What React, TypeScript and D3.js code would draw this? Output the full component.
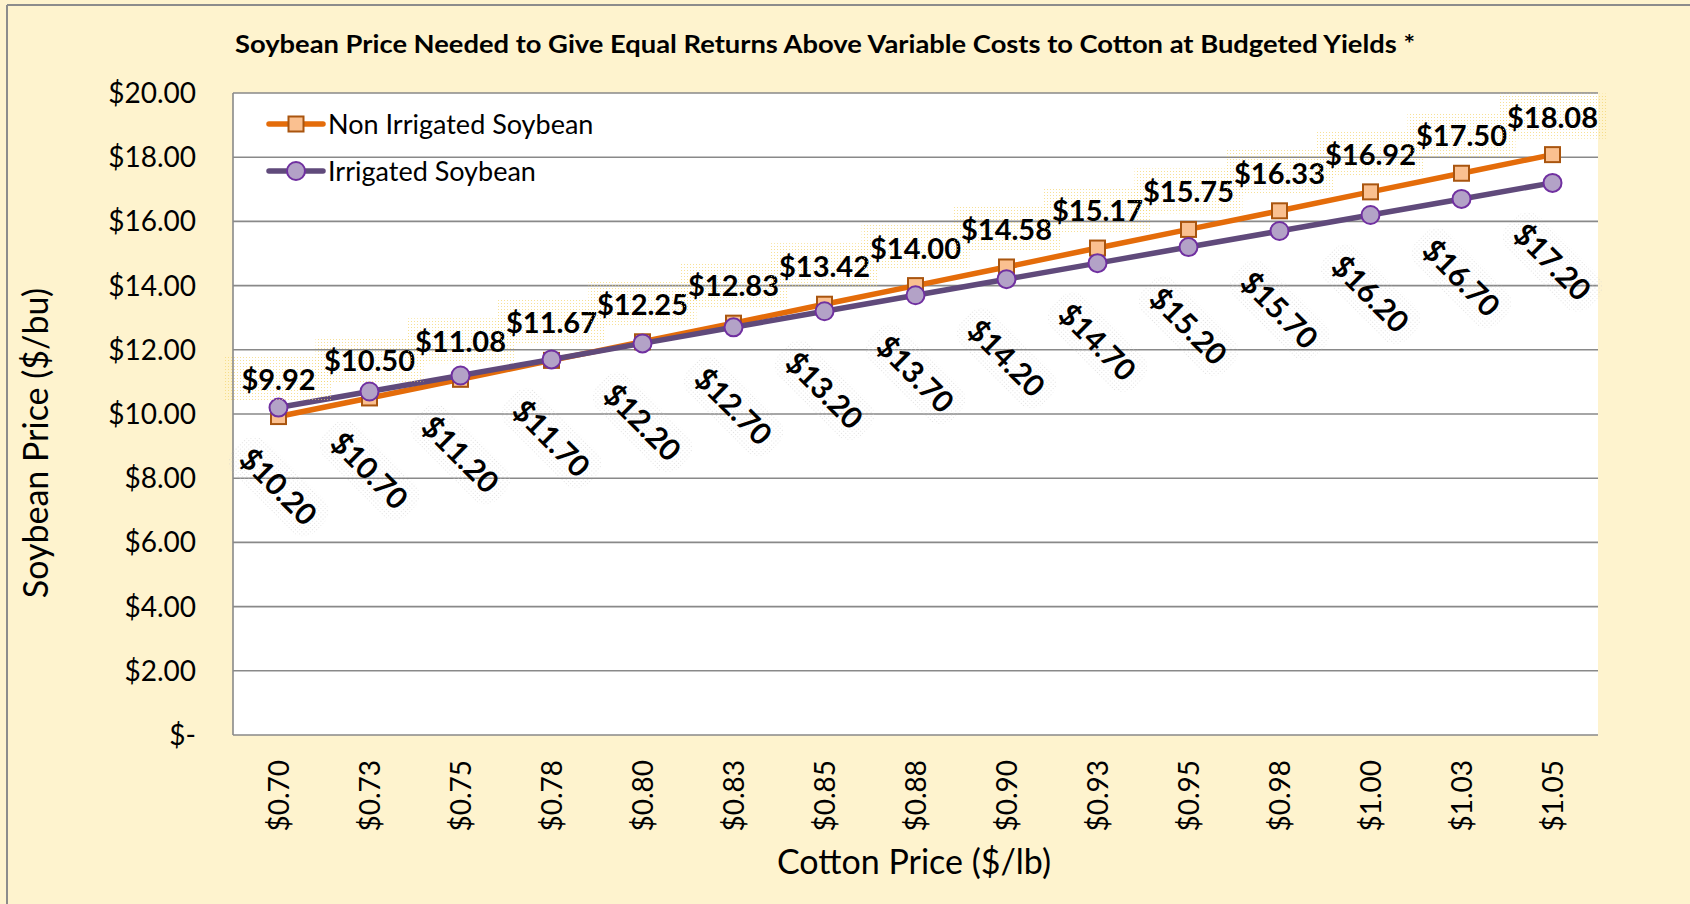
import React from "react";
import * as d3 from "d3";

const cottonPrices = ["$0.70", "$0.73", "$0.75", "$0.78", "$0.80", "$0.83", "$0.85", "$0.88", "$0.90", "$0.93", "$0.95", "$0.98", "$1.00", "$1.03", "$1.05"];
const nonIrrigated = [9.92, 10.5, 11.08, 11.67, 12.25, 12.83, 13.42, 14.0, 14.58, 15.17, 15.75, 16.33, 16.92, 17.5, 18.08];
const irrigated = [10.2, 10.7, 11.2, 11.7, 12.2, 12.7, 13.2, 13.7, 14.2, 14.7, 15.2, 15.7, 16.2, 16.7, 17.2];
const yTicks = [0, 2, 4, 6, 8, 10, 12, 14, 16, 18, 20];

const FONT = "Lato, 'Open Sans', sans-serif";
const W = 1690;
const H = 904;
const plot = { left: 233, right: 1598, top: 93, bottom: 735 };

const fmtMoney = (v: number) => (v === 0 ? "$-" : "$" + v.toFixed(2));

export default function App() {
  const x = d3
    .scalePoint<string>()
    .domain(cottonPrices)
    .range([plot.left, plot.right])
    .padding(0.5);
  const y = d3.scaleLinear().domain([0, 20]).range([plot.bottom, plot.top]);

  const line = d3
    .line<number>()
    .x((d, i) => x(cottonPrices[i]) as number)
    .y((d) => y(d));

  return (
    <svg
      width={W}
      height={H}
      style={{ position: "absolute", left: 0, top: 0 }}
      fontFamily={FONT}
    >
      <defs>
        <pattern id="dotY" width="3" height="3" patternUnits="userSpaceOnUse">
          <rect width="1" height="1" fill="#F3D46A" />
        </pattern>
        <pattern id="dotG" width="3" height="3" patternUnits="userSpaceOnUse">
          <rect width="1" height="1" fill="#CFCFCF" />
        </pattern>
      </defs>

      {/* chart background + frame */}
      <rect x={0} y={0} width={W} height={H} fill="#FEF3CE" />
      <line x1={7} y1={5} x2={W} y2={5} stroke="#8C8C8C" strokeWidth={2} />
      <line x1={7} y1={5} x2={7} y2={H} stroke="#8C8C8C" strokeWidth={2} />

      {/* plot area */}
      <rect
        x={plot.left}
        y={plot.top}
        width={plot.right - plot.left}
        height={plot.bottom - plot.top}
        fill="#fff"
      />

      {yTicks.map((t) => (
        <g key={t}>
          <line
            x1={plot.left}
            x2={plot.right}
            y1={y(t)}
            y2={y(t)}
            stroke="#898989"
            strokeWidth={1.6}
          />
          <text
            x={196}
            y={y(t) + 10}
            textAnchor="end"
            fontSize={28}
            fill="#000"
          >
            {fmtMoney(t)}
          </text>
        </g>
      ))}
      <line
        x1={plot.left}
        x2={plot.left}
        y1={plot.top}
        y2={plot.bottom}
        stroke="#898989"
        strokeWidth={1.6}
      />

      {cottonPrices.map((c) => (
        <text
          key={c}
          transform={`translate(${x(c)},760) rotate(-90)`}
          textAnchor="end"
          dy="0.36em"
          fontSize={28}
        >
          {c}
        </text>
      ))}

      {/* axis titles */}
      <text x={914} y={874} textAnchor="middle" fontSize={34}>
        Cotton Price ($/lb)
      </text>
      <text
        transform="translate(36,443) rotate(-90)"
        textAnchor="middle"
        dy="0.35em"
        fontSize={34}
      >
        Soybean Price ($/bu)
      </text>

      {/* title */}
      <text
        x={825}
        y={53}
        textAnchor="middle"
        fontSize={24}
        fontWeight="bold"
        textLength={1180}
        lengthAdjust="spacingAndGlyphs"
      >
        Soybean Price Needed to Give Equal Returns Above Variable Costs to Cotton at Budgeted Yields *
      </text>

      {/* series lines */}
      <path d={line(nonIrrigated) || ""} fill="none" stroke="#E46C0A" strokeWidth={5.5} strokeLinejoin="round" />
      {nonIrrigated.map((v, i) => (
        <rect
          key={i}
          x={(x(cottonPrices[i]) as number) - 7.5}
          y={y(v) - 7.5}
          width={15}
          height={15}
          fill="#FAC090"
          stroke="#A9550F"
          strokeWidth={2}
        />
      ))}
      <path d={line(irrigated) || ""} fill="none" stroke="#604A7B" strokeWidth={5.5} strokeLinejoin="round" />
      {irrigated.map((v, i) => (
        <circle
          key={i}
          cx={x(cottonPrices[i]) as number}
          cy={y(v)}
          r={9}
          fill="#B3A2C7"
          stroke="#7030A0"
          strokeWidth={2}
        />
      ))}

      {/* data labels, non irrigated: above */}
      {nonIrrigated.map((v, i) => {
        const cx = x(cottonPrices[i]) as number;
        const cy = y(v);
        return (
          <g key={i}>
            <rect x={cx - 54} y={cy - 61} width={108} height={45} fill="url(#dotY)" opacity={0.7} />
            <text x={cx} y={cy - 27} textAnchor="middle" fontSize={29} fontWeight="bold">
              {fmtMoney(v)}
            </text>
          </g>
        );
      })}

      {/* data labels, irrigated: below, rotated */}
      {irrigated.map((v, i) => {
        const cx = x(cottonPrices[i]) as number;
        const cy = y(v) + 79;
        return (
          <g key={i} transform={`translate(${cx},${cy}) rotate(45)`}>
            <rect x={-58} y={-23} width={116} height={46} rx={18} fill="url(#dotG)" opacity={0.6} />
            <text textAnchor="middle" dy="0.36em" fontSize={30} fontWeight="bold">
              {fmtMoney(v)}
            </text>
          </g>
        );
      })}

      {/* legend */}
      <g>
        <line x1={269} x2={323} y1={124} y2={124} stroke="#E46C0A" strokeWidth={5.5} strokeLinecap="round" />
        <rect x={288.5} y={116.5} width={15} height={15} fill="#FAC090" stroke="#A9550F" strokeWidth={2} />
        <text x={328} y={134} fontSize={27}>
          Non Irrigated Soybean
        </text>
        <line x1={269} x2={323} y1={171} y2={171} stroke="#604A7B" strokeWidth={5.5} strokeLinecap="round" />
        <circle cx={296} cy={171} r={9} fill="#B3A2C7" stroke="#7030A0" strokeWidth={2} />
        <text x={328} y={181} fontSize={27}>
          Irrigated Soybean
        </text>
      </g>
    </svg>
  );
}
